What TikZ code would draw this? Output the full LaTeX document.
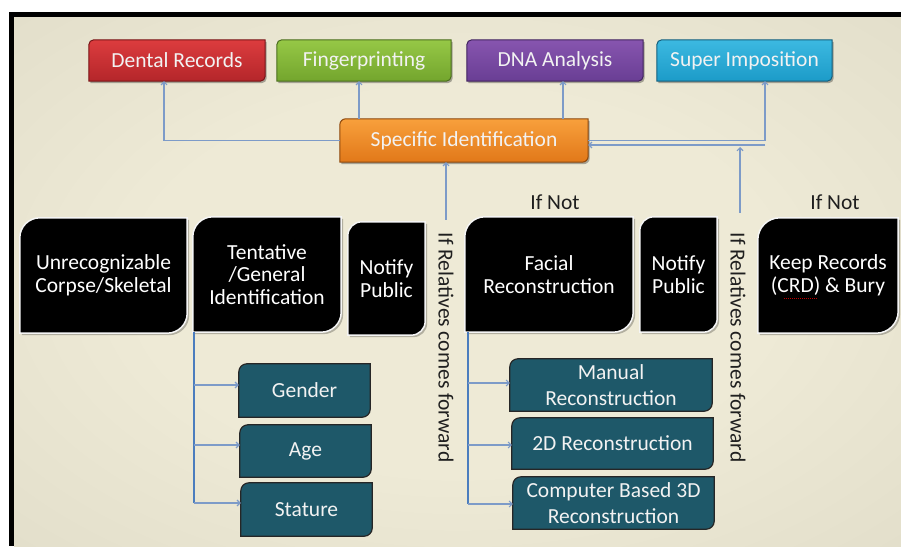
\documentclass[tikz,border=0pt]{standalone}
\usepackage{fontspec}
\setmainfont{Carlito}
\usetikzlibrary{arrows.meta,calc}
\pgfdeclarelayer{back}
\pgfdeclarelayer{shapes}
\pgfsetlayers{back,shapes,main}
\definecolor{bgin}{RGB}{238,234,214}
\definecolor{bgmid}{RGB}{224,220,200}
\definecolor{bgout}{RGB}{172,168,150}
\definecolor{connc}{RGB}{125,155,200}
\definecolor{vblue}{RGB}{75,125,190}
\definecolor{tealc}{RGB}{30,88,105}
\definecolor{redT}{RGB}{220,60,62}
\definecolor{redB}{RGB}{180,38,42}
\definecolor{redD}{RGB}{120,20,22}
\definecolor{grnT}{RGB}{150,200,70}
\definecolor{grnB}{RGB}{115,165,45}
\definecolor{grnD}{RGB}{75,110,30}
\definecolor{purT}{RGB}{135,85,175}
\definecolor{purB}{RGB}{105,62,148}
\definecolor{purD}{RGB}{65,35,95}
\definecolor{cyaT}{RGB}{60,185,225}
\definecolor{cyaB}{RGB}{28,155,200}
\definecolor{cyaD}{RGB}{20,95,125}
\definecolor{oraT}{RGB}{248,160,60}
\definecolor{oraB}{RGB}{225,120,25}
\definecolor{oraD}{RGB}{140,70,10}
\definecolor{txtw}{RGB}{242,242,242}
\pgfdeclareradialshading{bgshade}{\pgfpoint{0bp}{0bp}}{color(0bp)=(bgin); color(18bp)=(bgin); color(40bp)=(bgmid); color(60bp)=(bgout); color(72bp)=(bgout)}
\newcommand\dshape[3]{%
  \path[#3] (#1.north west) ++(0,-#2) arc[start angle=180,end angle=90,radius=#2]
    -- (#1.north east) -- ([yshift=#2pt]#1.south east)
    arc[start angle=0,end angle=-90,radius=#2] -- (#1.south west) -- cycle;}
\begin{document}
\begin{tikzpicture}[x=1pt,y=1pt,
  every node/.style={inner sep=0pt, font=\fontsize{21.5}{22.5}\selectfont},
  lbl/.style={text=txtw, align=center},
  blk/.style={text=white, align=center},
  tl/.style={text=txtw, align=center, font=\fontsize{21.5}{26.5}\selectfont},
  conn/.style={draw=connc, line width=1.1pt},
  arr/.style={-{Straight Barb[length=3pt,width=6pt]}},
  vl/.style={draw=vblue, line width=1.6pt},
  note/.style={text=black!88},
]
\useasboundingbox (0,0) rectangle (901,546);
% top row
\node[lbl, minimum width=176pt, minimum height=41pt] (Dental) at (177,485.5) {Dental Records};
\node[lbl, minimum width=174pt, minimum height=41pt] (Finger) at (364,485.5) {Fingerprinting};
\node[lbl, minimum width=176pt, minimum height=41pt] (DNA) at (555,485.5) {DNA Analysis};
\node[lbl, minimum width=175pt, minimum height=41pt] (Super) at (744.5,485.5) {Super Imposition};
\node[lbl, minimum width=248pt, minimum height=43pt] (SI) at (464,405.5) {Specific Identification};
% black row
\node[blk, minimum width=167pt, minimum height=115pt] (Unrec) at (103.5,270.5) {Unrecognizable\\Corpse/Skeletal};
\node[blk, minimum width=148pt, minimum height=115pt] (Tent) at (267,271.5) {Tentative\\/General\\Identification};
\node[blk, minimum width=77pt, minimum height=113pt] (Notify1) at (386.5,267.5) {Notify\\Public};
\node[blk, minimum width=168pt, minimum height=115pt] (Facial) at (549,271.5) {Facial\\Reconstruction};
\node[blk, minimum width=77pt, minimum height=115pt] (Notify2) at (678.5,271.5) {Notify\\Public};
\node[blk, minimum width=140pt, minimum height=115pt] (Keep) at (828,270.5) {Keep Records\\(CRD) \& Bury};
\node[note] (IfNot1) at (555,344) {If Not};
\node[note] (IfNot2) at (835,344) {If Not};
% teal boxes
\node[tl, minimum width=131pt, minimum height=53pt] (Gender) at (304.5,155.5) {Gender};
\node[tl, minimum width=131pt, minimum height=52pt] (Age) at (305.5,95) {Age};
\node[tl, minimum width=131pt, minimum height=53pt] (Stature) at (306.5,36.5) {Stature};
\node[tl, minimum width=202pt, minimum height=52pt] (Manual) at (611,161) {Manual\\Reconstruction};
\node[tl, minimum width=201pt, minimum height=51pt] (TwoD) at (612.5,102.5) {2D Reconstruction};
\node[tl, minimum width=201pt, minimum height=52pt] (Comp) at (613.5,43) {Computer Based 3D\\Reconstruction};
% rotated notes
\node[note, rotate=-90] (Rel1) at (446,198.5) {If Relatives comes forward};
\node[note, rotate=-90] (Rel2) at (738,198.5) {If Relatives comes forward};

\begin{pgfonlayer}{back}
  \path[shading=bgshade] (14,0) rectangle (901,529);
  \fill[black] (8.5,0) rectangle (14,533.5);
  \fill[black] (8.5,529) rectangle (901,533.5);
\end{pgfonlayer}

\begin{pgfonlayer}{shapes}
  \foreach \n/\r/\t/\b/\d in {Dental/5/redT/redB/redD, Finger/5/grnT/grnB/grnD, DNA/5/purT/purB/purD, Super/5/cyaT/cyaB/cyaD, SI/6/oraT/oraB/oraD}{
    \begin{scope}[transform canvas={shift={(1.5pt,-2pt)}}]
      \dshape{\n}{\r}{fill=black, opacity=.3}
    \end{scope}
    \dshape{\n}{\r}{top color=\t, bottom color=\b, draw=\d, line width=1pt}
  }
  \foreach \n/\r in {Unrec/20, Tent/20, Notify1/14, Facial/20, Notify2/14, Keep/22}{
    \begin{scope}[transform canvas={shift={(2pt,-2pt)}}]
      \dshape{\n}{\r}{fill=black, opacity=.25}
    \end{scope}
    \dshape{\n}{\r}{fill=black, draw=white!92!gray, line width=1.5pt}
  }
  \foreach \n in {Gender, Age, Stature, Manual, TwoD, Comp}{
    \dshape{\n}{8}{fill=tealc, draw=black!85, line width=1.2pt}
  }
\end{pgfonlayer}

% spell-check underline under CRD
\draw[red!75!black, densely dotted, line width=1pt] ([xshift=-44pt,yshift=-23pt]Keep.center) -- ([xshift=-10pt,yshift=-23pt]Keep.center);

% connectors to identification methods
\coordinate (dx) at ([xshift=-13pt]Dental.south);
\draw[conn,arr] (SI.west) -| (dx);
\coordinate (fx) at ([xshift=-5pt]Finger.south);
\draw[conn,arr] (SI.north -| fx) -- (fx);
\coordinate (nx) at ([xshift=8pt]DNA.south);
\draw[conn,arr] (SI.north -| nx) -- (nx);
\coordinate (sx) at ([xshift=20.5pt]Super.south);
\draw[conn,arr] (SI.east) -| (sx);
% relatives come forward
\coordinate (r1) at (446,326);
\draw[conn,arr] (r1) -- (r1 |- SI.south);
\coordinate (r2) at (740,333);
\coordinate (j1) at (740,399);
\draw[conn,arr] (r2) -- (j1);
\coordinate (j2) at (765,401);
\draw[conn,arr] (j2) -- (j2 -| SI.east);
% tentative branches
\coordinate (tv) at ([xshift=1pt]Tent.south west);
\coordinate (g1) at ([yshift=5.5pt]Gender.west);
\coordinate (g2) at ([yshift=6pt]Age.west);
\coordinate (g3) at ([yshift=6.5pt]Stature.west);
\draw[vl] (tv) -- (tv |- g3);
\draw[conn,arr] (tv |- g1) -- (g1);
\draw[conn,arr] (tv |- g2) -- (g2);
\draw[conn,arr] (tv |- g3) -- (g3);
% facial branches
\coordinate (fv) at ([xshift=3pt]Facial.south west);
\coordinate (m1) at ([yshift=2pt]Manual.west);
\coordinate (m2) at ([yshift=-1.5pt]TwoD.west);
\coordinate (m3) at ([yshift=-1pt]Comp.west);
\draw[vl] (fv) -- (fv |- m3);
\draw[conn,arr] (fv |- m1) -- (m1);
\draw[conn,arr] (fv |- m2) -- (m2);
\draw[conn,arr] (fv |- m3) -- (m3);
\end{tikzpicture}
\end{document}
